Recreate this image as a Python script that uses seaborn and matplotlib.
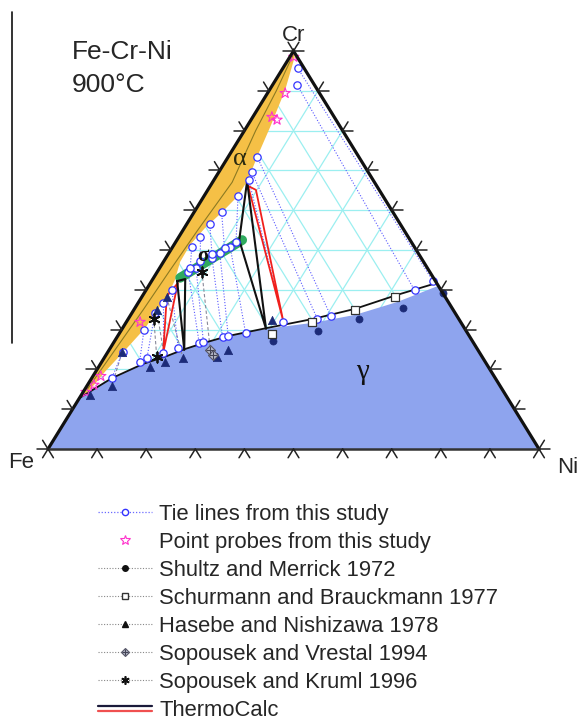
import numpy as np
import pandas as pd
import matplotlib
matplotlib.use("Agg")
import matplotlib.pyplot as plt
import seaborn as sns
from matplotlib.lines import Line2D
from matplotlib.legend_handler import HandlerBase, HandlerTuple

sns.set_style("white")
plt.rcParams["font.family"] = ["Liberation Sans", "DejaVu Sans"]

# ---------------- compositions (at.% Cr, at.% Ni; Fe = balance) ----------------
# gamma (fcc) phase boundary, measured
gamma_cr = [12.8, 17.8, 21.4, 23.4, 25.1, 26.6, 28.4, 30.2, 31.7, 33.7, 36.9, 41.0]
gamma_ni = [0.0, 4.1, 8.7, 12.6, 15.3, 18.3, 22.5, 29.3, 38.1, 45.7, 52.6, 59.0]
# gamma boundary from ThermoCalc
tc_gamma_cr = [12.8, 17.8, 21.4, 23.4, 25.1, 26.6, 28.4, 30.4, 32.7, 35.2, 38.7, 41.7]
tc_gamma_ni = [0.0, 4.1, 8.7, 12.6, 15.3, 18.3, 22.5, 29.4, 37.7, 44.9, 51.7, 58.3]
# alpha (bcc) phase boundary
alpha_cr = [100, 98.5, 90.2, 80.9, 73.4, 67.6, 63.6, 59.5, 55.5, 51.3, 47.0, 42.5,
            38.7, 34.9, 30.4, 24.9, 19.4, 14.3, 12.8]
alpha_ni = [0.0, 1.0, 3.2, 4.8, 5.9, 6.9, 6.9, 5.7, 4.2, 3.3, 3.4, 4.6,
            5.1, 4.8, 4.6, 3.3, 1.9, 1.0, 0.0]
# alpha boundary from ThermoCalc
tc_alpha_cr = [99, 90, 80, 67, 55, 45, 35, 25, 15]
tc_alpha_ni = [0.4, 1.5, 2.3, 4.0, 3.0, 2.4, 1.9, 1.2, 0.5]
# sigma phase field
sigma_cr = [43.0, 52.5]
sigma_ni = [5.4, 13.3]

# three-phase triangles (alpha, sigma, gamma corners)
tri_exp_cr = [[42.2, 42.7, 24.9], [67.3, 52.5, 30.2]]
tri_exp_ni = [[5.2, 6.6, 15.3], [6.9, 12.7, 29.3]]
tri_tc_cr = [[38.4, 41.7, 24.1], [66.1, 65.1, 32.2]]
tri_tc_ni = [[5.0, 5.6, 11.4], [7.7, 9.8, 31.8]]

# tie lines from this study: first end / second end
tie1_cr = [95.7, 91.5, 73.4, 69.6, 67.6, 63.6, 59.5, 56.5, 53.3, 50.8, 44.5, 45.5,
           48.0, 49.2, 50.8, 39.9, 36.7, 34.2, 29.9, 24.4]
tie1_ni = [3.0, 5.0, 5.9, 6.7, 7.1, 6.9, 5.6, 4.7, 4.4, 3.9, 6.3, 7.4,
           9.4, 10.4, 11.7, 5.3, 5.0, 4.7, 4.6, 3.0]
tie2_cr = [42.2, 39.9, 33.4, 32.7, 31.9, 52.0, 50.5, 49.0, 47.2, 45.5, 26.6, 26.9,
           28.1, 28.4, 29.1, 25.4, 24.1, 22.9, 21.9, 17.8]
tie2_ni = [57.3, 54.7, 40.9, 38.5, 32.0, 12.3, 10.7, 8.9, 7.4, 6.2, 17.5, 18.2,
           21.5, 22.5, 25.7, 13.8, 11.3, 8.7, 7.7, 4.1]

# tie lines from the literature
lit1_cr = [97.7, 38.2, 34.9, 24.4, 32.7, 44.5]
lit1_ni = [2.2, 5.1, 4.7, 2.9, 5.2, 9.1]
lit2_cr = [41.7, 22.9, 21.9, 15.8, 23.1, 24.9]
lit2_ni = [58.3, 16.0, 12.9, 5.1, 10.6, 20.6]

# point probes from this study
probe_cr = [98.5, 89.4, 82.7, 83.4, 31.9, 18.3, 16.1, 14.3]
probe_ni = [0.8, 3.6, 5.3, 3.9, 2.8, 1.6, 1.3, 0.6]

# literature data
shultz_cr = [27.1, 29.6, 32.7, 35.4, 39.2]
shultz_ni = [32.2, 40.2, 47.0, 54.6, 60.8]
schurmann_cr = [28.9, 31.9, 34.9, 38.2]
schurmann_ni = [31.2, 37.8, 45.0, 51.6]
hasebe_cr = [13.6, 15.8, 20.6, 21.9, 22.9, 23.1, 24.9, 32.4, 38.2, 34.9, 24.4]
hasebe_ni = [1.8, 5.1, 10.5, 12.9, 16.0, 22.9, 24.2, 29.4, 5.1, 4.7, 2.9]
vrestal_cr = [24.9, 23.6]
vrestal_ni = [20.6, 21.8]
kruml_cr = [44.5, 32.7, 23.1]
kruml_ni = [9.1, 5.2, 10.6]

grid_levels = [10, 20, 30, 40, 50, 60, 70, 80, 90]
vertex_labels = ["Fe", "Cr", "Ni"]
title_lines = ["Fe-Cr-Ni", "900°C"]
legend_labels = ["Tie lines from this study", "Point probes from this study",
                 "Shultz and Merrick 1972", "Schurmann and Brauckmann 1977",
                 "Hasebe and Nishizawa 1978", "Sopousek and Vrestal 1994",
                 "Sopousek and Kruml 1996", "ThermoCalc"]

H = np.sqrt(3) / 2


def tern(cr, ni):
    cr = np.asarray(cr, dtype=float) / 100.0
    ni = np.asarray(ni, dtype=float) / 100.0
    return ni + cr / 2.0, cr * H


W, HGT = 582, 726
fig = plt.figure(figsize=(W / 100, HGT / 100), dpi=100)
ax = fig.add_axes([0, 0, 1, 1])
ax.set_xlim(-48 / 491, (W - 48) / 491)
ax.set_ylim(-277 / (398 / H), (HGT - 277) / (398 / H))
ax.axis("off")

# ---- cyan grid ----
grid_c = "#9beff0"
for v in grid_levels:
    x, y = tern([v, v], [0, 100 - v])          # constant Cr
    ax.plot(x, y, color=grid_c, lw=0.9, zorder=1)
    x, y = tern([0, 100 - v], [v, v])          # constant Ni
    ax.plot(x, y, color=grid_c, lw=0.9, zorder=1)
    x, y = tern([0, 100 - v], [100 - v, 0])    # constant Fe
    ax.plot(x, y, color=grid_c, lw=0.9, zorder=1)

# ---- phase fields ----
gx, gy = tern(gamma_cr, gamma_ni)
fe = tern(0, 0)
ni_v = tern(0, 100)
cr_v = tern(100, 0)
ax.fill(np.r_[fe[0], gx, ni_v[0]], np.r_[fe[1], gy, ni_v[1]],
        color="#8ea4ee", lw=0, zorder=2)

axx, ayy = tern(alpha_cr, alpha_ni)
ax.fill(axx, ayy, color="#f5c046", lw=0, zorder=2)
tx, ty = tern(tc_alpha_cr, tc_alpha_ni)
ax.plot(tx, ty, color="#8c7a22", lw=0.8, zorder=3)

sx, sy = tern(sigma_cr, sigma_ni)
ax.plot(sx, sy, color="#2faa5e", lw=7, solid_capstyle="round", zorder=4)

# ---- tie lines ----
for a_cr, a_ni, b_cr, b_ni in zip(lit1_cr, lit1_ni, lit2_cr, lit2_ni):
    x, y = tern([a_cr, b_cr], [a_ni, b_ni])
    ax.plot(x, y, color="#8a8a9a", lw=0.8, ls=(0, (3, 2)), zorder=3)

for a_cr, a_ni, b_cr, b_ni in zip(tie1_cr, tie1_ni, tie2_cr, tie2_ni):
    x, y = tern([a_cr, b_cr], [a_ni, b_ni])
    ax.plot(x, y, color="#5a5aff", lw=0.8, ls=(0, (1, 1.6)), zorder=3)

# ---- three-phase triangles ----
for cr, ni in zip(tri_tc_cr, tri_tc_ni):
    x, y = tern(cr + cr[:1], ni + ni[:1])
    ax.plot(x, y, color="#f0201c", lw=1.3, zorder=5)
for cr, ni in zip(tri_exp_cr, tri_exp_ni):
    x, y = tern(cr + cr[:1], ni + ni[:1])
    ax.plot(x, y, color="#111111", lw=1.5, zorder=5)

# ThermoCalc gamma boundary
tgx, tgy = tern(tc_gamma_cr, tc_gamma_ni)
ax.plot(tgx, tgy, color="#111111", lw=1.3, zorder=5)

# ---- markers ----
e1x, e1y = tern(tie1_cr, tie1_ni)
e2x, e2y = tern(tie2_cr, tie2_ni)
ends = pd.DataFrame({"x": np.r_[e1x, e2x], "y": np.r_[e1y, e2y]})
sns.scatterplot(data=ends, x="x", y="y", ax=ax, marker="o", s=28, color="white",
                edgecolor="#3434ff", linewidth=0.9, zorder=6, legend=False)

px, py = tern(probe_cr, probe_ni)
ax.scatter(px, py, marker="*", s=60, facecolors="none", edgecolors="#ff33cc",
           linewidths=0.8, zorder=6)

navy = "#1c2b78"
sx1, sy1 = tern(shultz_cr, shultz_ni)
sns.scatterplot(x=sx1, y=sy1, ax=ax, marker="o", s=26, color=navy, edgecolor=navy,
                linewidth=0.5, zorder=6, legend=False)
bx, by = tern(schurmann_cr, schurmann_ni)
sns.scatterplot(x=bx, y=by, ax=ax, marker="s", s=32, color="white", edgecolor="#333333",
                linewidth=0.9, zorder=6, legend=False)
hx, hy = tern(hasebe_cr, hasebe_ni)
sns.scatterplot(x=hx, y=hy, ax=ax, marker="^", s=36, color=navy, edgecolor=navy,
                linewidth=0.5, zorder=6, legend=False)
vx, vy = tern(vrestal_cr, vrestal_ni)
ax.scatter(vx, vy, marker="D", s=26, facecolors="#b8bccc", edgecolors="#555566",
           linewidths=0.8, zorder=6)
ax.scatter(vx, vy, marker="+", s=30, color="#444455", linewidths=0.8, zorder=6)
kx, ky = tern(kruml_cr, kruml_ni)
ax.scatter(kx, ky, marker=(6, 2, 0), s=55, color="#111111", linewidths=1.3, zorder=6)

# ---- triangle frame ----
ax.plot([fe[0], cr_v[0], ni_v[0]], [fe[1], cr_v[1], ni_v[1]], color="#111111",
        lw=2.3, zorder=7, solid_joinstyle="miter")
ax.plot([fe[0], ni_v[0]], [fe[1], ni_v[1]], color="#333333", lw=1.8, zorder=7)

# ---- ticks: continuation of the grid lines outside the triangle ----
L = 0.022
dl, dr = np.array([-0.5, -H]), np.array([0.5, -H])
lft, rgt = np.array([-1.0, 0.0]), np.array([1.0, 0.0])
ul, ur = np.array([-0.5, H]), np.array([0.5, H])


def stroke(p, d):
    ax.plot([p[0], p[0] + L * d[0]], [p[1], p[1] + L * d[1]], color="#222222",
            lw=1.1, zorder=7)


for v in grid_levels:
    p = tern(0, v)
    stroke(p, dl)
    stroke(p, dr)
    p = tern(v, 0)
    stroke(p, lft)
    stroke(p, ul)
    p = tern(v, 100 - v)
    stroke(p, rgt)
    stroke(p, ur)
for d in (lft, dl, ul, dr):
    stroke(fe, d)
for d in (rgt, dr, ur, dl):
    stroke(ni_v, d)
for d in (lft, rgt, ul, ur):
    stroke(cr_v, d)

# ---- labels ----
ax.annotate(vertex_labels[1], cr_v, xytext=(0, 11), textcoords="offset points",
            ha="center", va="center", fontsize=16)
ax.annotate(vertex_labels[0], fe, xytext=(-19, -10), textcoords="offset points",
            ha="center", va="center", fontsize=16)
ax.annotate(vertex_labels[2], ni_v, xytext=(21, -13), textcoords="offset points",
            ha="center", va="center", fontsize=16)

serif = ["Liberation Serif", "DejaVu Serif"]
ax.text(*tern(72.9, 2.7), "α", family=serif, fontsize=19, ha="center", va="center",
        color="#2a2a10", zorder=8)
ax.text(*tern(19.3, 54.3), "γ", family=serif, fontsize=21, ha="center", va="center",
        color="#111111", zorder=8)
ax.text(*tern(48.4, 7.4), "σ", family=serif, fontsize=15, fontweight="bold",
        ha="center", va="center", color="#111111", zorder=8)

fig.text(72 / W, 1 - 59 / HGT, title_lines[0], fontsize=19, va="baseline", ha="left")
fig.text(72 / W, 1 - 92 / HGT, title_lines[1], fontsize=19, va="baseline", ha="left")

# stray rule on the left
fig.add_artist(Line2D([12 / W, 12 / W], [1 - 12 / HGT, 1 - 343 / HGT],
                      transform=fig.transFigure, color="#111111", lw=1.2))


# ---- legend ----
class DoubleLine(HandlerBase):
    def create_artists(self, legend, orig, xd, yd, w, h, fs, trans):
        x0 = -xd
        yc = -yd + h / 2
        a = Line2D([x0, x0 + w], [yc + 1.6, yc + 1.6], color="#1a1a3a", lw=1.6,
                   transform=trans)
        b = Line2D([x0, x0 + w], [yc - 1.6, yc - 1.6], color="#f05050", lw=1.6,
                   transform=trans)
        return [a, b]


dot = (0, (1, 1.5))
vrestal_handle = (
    Line2D([], [], color="#888888", ls=dot, lw=0.8, marker="D", ms=4.5,
           mfc="#b8bccc", mec="#555566", mew=0.8),
    Line2D([], [], ls="none", marker="+", ms=5, mec="#444455", mew=0.8),
)
tc_handle = Line2D([], [])
handles = [
    Line2D([], [], color="#6a6aff", ls=dot, lw=0.9, marker="o", ms=4.5, mfc="white",
           mec="#3434ff", mew=1.0),
    Line2D([], [], ls="none", marker="*", ms=7, mfc="none", mec="#ff33cc", mew=0.8),
    Line2D([], [], color="#888888", ls=dot, lw=0.8, marker="o", ms=4, mfc="#111111",
           mec="#111111"),
    Line2D([], [], color="#888888", ls=dot, lw=0.8, marker="s", ms=4.5, mfc="white",
           mec="#333333"),
    Line2D([], [], color="#888888", ls=dot, lw=0.8, marker="^", ms=5, mfc="#111111",
           mec="#111111"),
    vrestal_handle,
    Line2D([], [], color="#888888", ls=dot, lw=0.8, marker=(6, 2, 0), ms=6,
           mec="#111111", mew=1.2),
    tc_handle,
]
fig.legend(handles, legend_labels, loc="upper left",
           bbox_to_anchor=(98 / W, 1 - 504 / HGT), bbox_transform=fig.transFigure,
           frameon=False, fontsize=15.8, handlelength=2.45, handletextpad=0.33,
           labelspacing=0.32, borderpad=0, borderaxespad=0,
           handler_map={tc_handle: DoubleLine(), tuple: HandlerTuple(ndivide=1, pad=0)})

fig.savefig("out.png", dpi=100)
